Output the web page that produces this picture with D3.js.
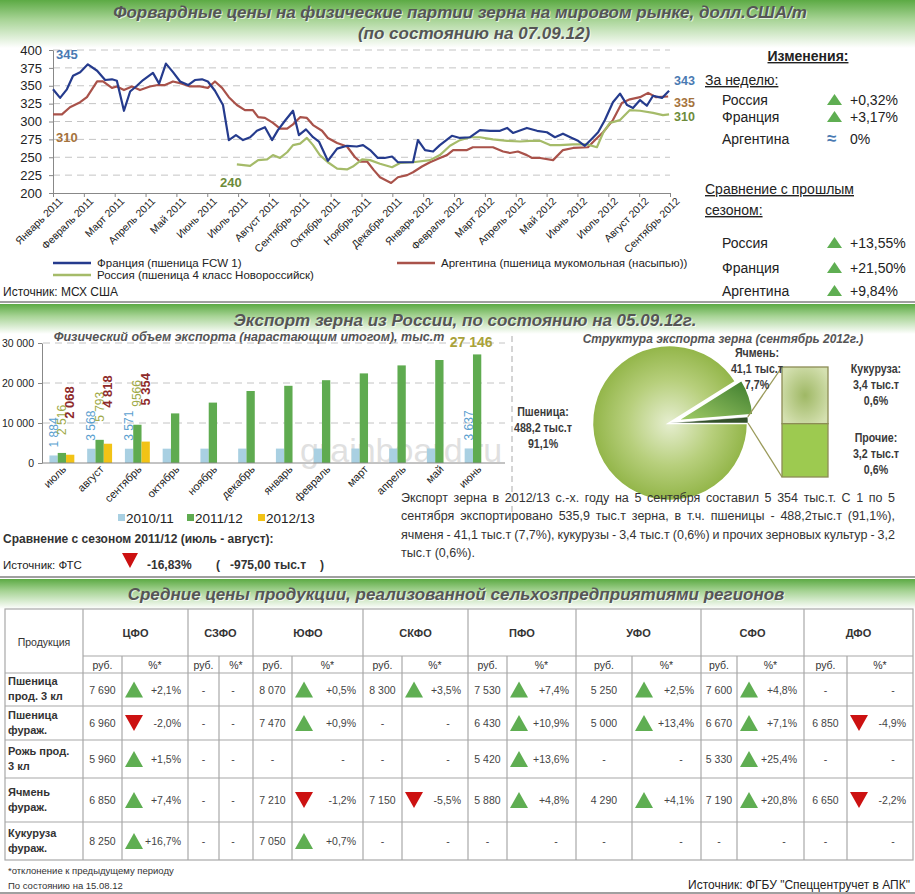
<!DOCTYPE html>
<html><head><meta charset="utf-8">
<script src="https://cdn.jsdelivr.net/npm/d3@7"></script>
<style>
body{margin:0;background:#fff;}
svg{display:block;font-family:"Liberation Sans",Arial,sans-serif;}
</style></head><body><svg id="c" width="915" height="894"></svg>
<script>
// ---------------- DATA ----------------
const topMonths = ["Январь 2011","Февраль 2011","Март 2011","Апрель 2011","Май 2011","Июнь 2011","Июль 2011","Август 2011","Сентябрь 2011","Октябрь 2011","Ноябрь 2011","Декабрь 2011","Январь 2012","Февраль 2012","Март 2012","Апрель 2012","Май 2012","Июнь 2012","Июль 2012","Август 2012","Сентябрь 2012"];
const priceTicks = [200,225,250,275,300,325,350,375,400];
// time in months since January 2011
const franceT = [0,0.23,0.45,0.65,0.88,1.13,1.43,1.69,1.91,2.07,2.30,2.50,2.72,2.92,3.24,3.44,3.66,3.89,4.12,4.38,4.60,4.83,5.02,5.25,5.51,5.70,5.93,6.16,6.39,6.61,6.87,7.10,7.29,7.52,7.78,7.97,8.20,8.43,8.62,8.91,9.21,9.53,9.85,10.05,10.28,10.53,10.75,10.99,11.18,11.67,11.83,12.06,12.32,12.54,12.93,13.19,13.52,13.84,14.17,14.49,14.72,14.91,15.36,15.69,16.01,16.27,16.53,16.82,17.02,17.24,17.47,17.67,17.89,18.15,18.38,18.61,18.80,19.03,19.25,19.45,19.74,19.97];
const franceV = [345,333,345,364,369,380,371,358,359,357,315,342,350,358,368,353,381,369,356,351,358,359,356,343,323,274,281,274,278,287,292,274,288,301,315,281,289,278,272,245,262,266,265,267,260,249,249,251,243,243,274,260,258,267,280,277,278,288,287,287,291,284,291,287,285,278,283,277,273,266,276,285,302,327,339,323,319,330,322,336,333,343];
const argT = [0,0.29,0.55,0.88,1.10,1.43,1.62,1.91,2.07,2.30,2.56,2.82,3.14,3.40,3.63,3.89,4.18,4.44,4.77,5.02,5.25,5.48,5.70,5.96,6.22,6.48,6.65,6.87,7.13,7.36,7.59,7.78,8.01,8.23,8.43,8.72,8.91,9.21,9.53,9.79,9.95,10.18,10.40,10.60,10.96,11.18,11.48,11.67,11.96,12.22,12.54,12.77,12.97,13.42,13.61,14.26,14.59,14.81,15.07,15.36,15.53,15.79,16.21,16.53,16.86,17.34,17.57,17.83,18.15,18.44,18.70,19.03,19.29,19.55,19.94];
const argV = [310,310,320,327,334,356,356,347,349,344,349,344,349,351,351,356,353,349,349,347,356,347,334,323,316,316,306,305,298,290,290,296,306,305,295,287,277,270,265,250,244,244,232,222,214,222,225,229,237,243,249,253,260,260,264,264,258,256,258,253,249,249,246,260,263,264,274,285,302,326,331,334,340,334,335];
const rusT = [5.96,6.39,6.65,6.94,7.13,7.36,7.59,7.78,8.01,8.23,8.43,8.65,8.91,9.21,9.53,9.72,10.02,10.28,10.60,10.99,11.25,11.67,12.22,12.54,12.87,13.19,13.52,13.84,14.26,14.72,15.14,15.46,15.79,16.11,16.43,16.86,17.31,17.63,17.83,18.05,18.38,18.70,19.03,19.45,19.77,19.97];
const rusV = [240,238,246,247,253,249,257,267,269,277,267,253,243,234,233,237,247,246,241,236,242,243,246,253,266,274,278,278,275,273,272,273,273,267,267,268,268,264,284,298,302,316,315,312,309,310];
const seriesNames = ["Франция (пшеница FCW 1)","Россия (пшеница 4 класс Новороссийск)","Аргентина (пшеница мукомольная (насыпью))"];
const weekNames = ["Россия","Франция","Аргентина"];
const weekChange = [0.32, 3.17, 0];
const seasonNames = ["Россия","Франция","Аргентина"];
const seasonChange = [13.55, 21.50, 9.84];

const exportMonths = ["июль","август","сентябрь","октябрь","ноябрь","декабрь","январь","февраль","март","апрель","май","июнь"];
const seasons = ["2010/11","2011/12","2012/13"];
const season1011 = [1884,3568,3571,3580,3590,3600,3600,3610,3615,3620,3630,3637];
const season1112 = [2516,5793,9566,12400,15100,18000,19300,20700,22400,24400,25750,27146];
const season1213 = [2068,4818,5354];
const exportTicks = [0,10000,20000,30000];

const pieNames = ["Пшеница","Ячмень","Кукуруза и прочие"];
const pieValues = [488.2, 41.1, 6.6];
const piePct = ["91,1%","7,7%","1,2%"];
const boxNames = ["Кукуруза","Прочие"];
const boxValues = [3.4, 3.2];
const boxPct = ["0,6%","0,6%"];

const regions = ["ЦФО","СЗФО","ЮФО","СКФО","ПФО","УФО","СФО","ДФО"];
const products = ["Пшеница|прод. 3 кл","Пшеница|фураж.","Рожь прод.|3 кл","Ячмень|фураж.","Кукуруза|фураж."];
const prices = [
 [7690,null,8070,8300,7530,5250,7600,null],
 [6960,null,7470,null,6430,5000,6670,6850],
 [5960,null,null,null,5420,null,5330,null],
 [6850,null,7210,7150,5880,4290,7190,6650],
 [8250,null,7050,null,null,null,null,null]];
const changes = [
 [2.1,null,0.5,3.5,7.4,2.5,4.8,null],
 [-2.0,null,0.9,null,10.9,13.4,7.1,-4.9],
 [1.5,null,null,null,13.6,null,25.4,null],
 [7.4,null,-1.2,-5.5,4.8,4.1,20.8,-2.2],
 [16.7,null,0.7,null,null,null,null,null]];

// ---------------- SETUP ----------------
const loc = d3.formatLocale({decimal:",",thousands:" ",grouping:[3],currency:["",""],minus:"-"});
const fInt = loc.format(",d");
const fPct1 = v => (v>0?"+":"") + loc.format(".1f")(v) + "%";
const fPct2 = v => (v>0?"+":"") + loc.format(".2f")(v) + "%";
const svg = d3.select("#c");
const defs = svg.append("defs");
const FONT = '"Liberation Sans",Arial,sans-serif';

const gb = defs.append("linearGradient").attr("id","gbar").attr("x1",0).attr("y1",0).attr("x2",0).attr("y2",1);
gb.append("stop").attr("offset","0%").attr("stop-color","#5caa44");
gb.append("stop").attr("offset","40%").attr("stop-color","#a6d394");
gb.append("stop").attr("offset","100%").attr("stop-color","#ffffff");

function bar(y,h){ svg.append("rect").attr("x",0).attr("y",y).attr("width",915).attr("height",h).attr("fill","url(#gbar)"); }
function sep(y){ svg.append("line").attr("x1",0).attr("x2",915).attr("y1",y).attr("y2",y).attr("stroke","#a0a0a0").attr("stroke-width",2); }
function title(t,x,y,size){
  svg.append("text").attr("x",x+1).attr("y",y+1).attr("text-anchor","middle").attr("font-size",size)
    .attr("font-weight","bold").attr("font-style","italic").attr("fill","#ffffff").attr("opacity",0.7).text(t);
  svg.append("text").attr("x",x).attr("y",y).attr("text-anchor","middle").attr("font-size",size)
    .attr("font-weight","bold").attr("font-style","italic").attr("fill","#555555").text(t);
}
function txt(t,x,y,o={}){
  const e = svg.append("text").attr("x",x).attr("y",y).attr("font-size",o.size||12)
    .attr("fill",o.fill||"#222").attr("text-anchor",o.anchor||"start").text(t);
  if(o.bold) e.attr("font-weight","bold");
  if(o.italic) e.attr("font-style","italic");
  if(o.family) e.attr("font-family",o.family);
  if(o.under) e.style("text-decoration","underline");
  if(o.stretch) e.attr("transform",`translate(${x},0) scale(${o.stretch},1) translate(${-x},0)`);
  return e;
}
function triUp(x,y,w,h,fill){ svg.append("path").attr("d",`M${x},${y+h}L${x+w/2},${y}L${x+w},${y+h}Z`).attr("fill",fill||"#5fae52"); }
function triDown(x,y,w,h){ svg.append("path").attr("d",`M${x},${y}L${x+w/2},${y+h}L${x+w},${y}Z`).attr("fill","#cc1111"); }

// ---------------- SECTION 1 ----------------
bar(0,48);
title("Форвардные цены на физические партии зерна на мировом рынке, долл.США/т",460,18,17);
title("(по состоянию на 07.09.12)",474,39,17);

const xT = d3.scaleLinear().domain([0,20]).range([53,670]);
const yT = d3.scaleLinear().domain([200,400]).range([193,50]);
const g1 = svg.append("g");
g1.selectAll("line.grid").data(priceTicks.filter(d=>d>200)).join("line")
  .attr("x1",xT(0)).attr("x2",xT(20)).attr("y1",d=>yT(d)).attr("y2",d=>yT(d))
  .attr("stroke","#c4c4c4").attr("stroke-dasharray","7,5");
const ay = g1.append("g").attr("transform",`translate(${xT(0)},0)`)
  .call(d3.axisLeft(yT).tickValues(priceTicks).tickSize(4).tickSizeOuter(0));
ay.selectAll("text").attr("font-size",13).attr("fill","#222").attr("font-family",FONT).attr("dx",-4);
ay.selectAll("line,path").attr("stroke","#888");
const ax = g1.append("g").attr("transform",`translate(0,${yT(200)})`)
  .call(d3.axisBottom(xT).tickValues(d3.range(21)).tickFormat(i=>topMonths[i]).tickSize(4).tickSizeOuter(0));
ax.selectAll("line,path").attr("stroke","#888");
ax.selectAll("text").attr("font-size",10.5).attr("fill","#222").attr("font-family",FONT)
  .attr("text-anchor","end").attr("transform","translate(3,2) rotate(-45)").attr("dy","0.35em").attr("y",6).attr("x",0);

const lineT = d3.line().x(d=>xT(d[0])).y(d=>yT(d[1]));
const lines = [[argT,argV,"#a9524a"],[rusT,rusV,"#a5bb69"],[franceT,franceV,"#253b8d"]];
lines.forEach(([t,v,c])=>{
  g1.append("path").datum(d3.zip(t,v)).attr("d",lineT).attr("fill","none").attr("stroke",c).attr("stroke-width",2.2).attr("stroke-linejoin","round");
});
txt(franceV[0],56,59,{size:13,bold:true,fill:"#4a7ab2"});
txt(argV[0],56,142,{size:13,bold:true,fill:"#a5733d"});
txt(rusV[0],220,187,{size:13,bold:true,fill:"#6d8b3a"});
txt(franceV[franceV.length-1],674,85,{size:12.5,bold:true,fill:"#4a7ab2"});
txt(argV[argV.length-1],674,107,{size:12.5,bold:true,fill:"#a5733d"});
txt(rusV[rusV.length-1],674,121,{size:12.5,bold:true,fill:"#6d8b3a"});

// legend
[[53,263,"#253b8d",seriesNames[0]],[53,275,"#a5bb69",seriesNames[1]],[397,263,"#a9524a",seriesNames[2]]].forEach(([x,y,c,n])=>{
  svg.append("line").attr("x1",x).attr("x2",x+38).attr("y1",y).attr("y2",y).attr("stroke",c).attr("stroke-width",2.5);
  txt(n,x+44,y+4,{size:11.5,fill:"#222"});
});
txt("Источник: МСХ США",3,296,{size:12,fill:"#222"});

// right panel
txt("Изменения:",808,61,{size:14,bold:true,anchor:"middle",under:true,fill:"#222"});
txt("За неделю:",705,85,{size:14,under:true,fill:"#222"});
const wy = [105,122,144];
weekNames.forEach((n,i)=>{
  txt(n,722,wy[i],{size:14,fill:"#222"});
  if(weekChange[i]>0){ triUp(827,wy[i]-11,15,11); txt(fPct2(weekChange[i]),850,wy[i],{size:14,fill:"#222"}); }
  else { txt("≈",827,wy[i],{size:17,bold:true,fill:"#4a7ab2"}); txt("0%",850,wy[i],{size:14,fill:"#222"}); }
});
txt("Сравнение с прошлым",705,194,{size:14,under:true,fill:"#222"});
txt("сезоном:",705,215,{size:14,under:true,fill:"#222"});
const sy = [248,273,296];
seasonNames.forEach((n,i)=>{
  txt(n,722,sy[i],{size:14,fill:"#222"});
  triUp(827,sy[i]-11,15,11);
  txt(fPct2(seasonChange[i]),850,sy[i],{size:14,fill:"#222"});
});
sep(302);

// ---------------- SECTION 2 ----------------
bar(304,30);
title("Экспорт зерна из России, по состоянию на 05.09.12г.",465,326,17);
txt("Физический объем экспорта (нарастающим итогом), тыс.т",249,341,{size:12.5,bold:true,italic:true,anchor:"middle",fill:"#555"});

// watermark (drawn beneath the marks)
svg.append("text").attr("x",300).attr("y",462).attr("font-size",34).attr("fill","#9a9a9a").attr("opacity",0.3).text("grainboard.ru");

const xB = d3.scaleBand().domain(exportMonths).range([43,496]).paddingInner(0.34).paddingOuter(0.17);
const xS = d3.scaleBand().domain(seasons).range([0,xB.bandwidth()]);
const yB = d3.scaleLinear().domain([0,30000]).range([463,343]);
const g2 = svg.append("g");
g2.selectAll("line.grid").data(exportTicks.filter(d=>d>0)).join("line")
  .attr("x1",43).attr("x2",505).attr("y1",d=>yB(d)).attr("y2",d=>yB(d))
  .attr("stroke","#c4c4c4").attr("stroke-dasharray","7,5");
const seasonColors = ["#a9d0e2","#5fab50","#f2c316"];
const allSeries = [season1011,season1112,season1213];
allSeries.forEach((s,si)=>{
  g2.selectAll(null).data(s).join("rect")
    .attr("x",(d,i)=>xB(exportMonths[i])+xS(seasons[si]))
    .attr("width",xS.bandwidth())
    .attr("y",d=>yB(d)).attr("height",d=>yB(0)-yB(d))
    .attr("fill",seasonColors[si]);
});
const by = g2.append("g").attr("transform","translate(42,0)")
  .call(d3.axisLeft(yB).tickValues(exportTicks).tickSize(4).tickSizeOuter(0).tickFormat(fInt));
by.selectAll("text").attr("font-size",10.5).attr("fill","#222").attr("font-family",FONT).attr("dx",-1);
by.selectAll("line,path").attr("stroke","#888");
g2.append("line").attr("x1",42).attr("x2",505).attr("y1",yB(0)).attr("y2",yB(0)).attr("stroke","#888");
exportMonths.forEach(m=>{
  const cx = xB(m)+xB.bandwidth()/2;
  g2.append("text").attr("transform",`translate(${cx+5},${470}) rotate(-45)`).attr("text-anchor","end")
    .attr("font-size",11).attr("fill","#222").text(m);
});
// value labels
const lblColor = ["#5b9fd0","#a0aa48","#8e2a2a"];
const lblOff = [8,18,36];
const lblIdx = [[0,1,2,11],[0,1,2],[0,1,2]];
allSeries.forEach((s,si)=>{
  lblIdx[si].forEach(i=>{
    const cx = xB(exportMonths[i])+xS(seasons[si])+xS.bandwidth()/2;
    const v = s[i];
    const t = (v===9566)?"9566":fInt(v);
    g2.append("text").attr("transform",`translate(${cx+4},${yB(v)-lblOff[si]}) rotate(-90)`)
      .attr("font-size",si===2?13:12).attr("font-weight",si===2?"bold":"normal").attr("fill",lblColor[si]).text(t);
  });
});
{
  const cx = xB(exportMonths[11])+xS(seasons[1])+xS.bandwidth()/2;
  g2.append("text").attr("x",cx-6).attr("y",347).attr("text-anchor","middle").attr("font-size",14).attr("font-weight","bold")
    .attr("fill","#a9a23a").text(fInt(season1112[11]));
}
// legend
seasons.forEach((s,i)=>{
  const lx = [118,187,258][i];
  svg.append("rect").attr("x",lx).attr("y",514).attr("width",7).attr("height",7).attr("fill",seasonColors[i]);
  txt(s,lx+8,523,{size:13.5,fill:"#222"});
});
txt("Сравнение с сезоном 2011/12 (июль - август):",3,543,{size:12,bold:true,fill:"#333"});
txt("Источник: ФТС",3,569,{size:11.5,fill:"#222"});
triDown(122,553,16,15);
txt("-16,83%",147,569,{size:12,bold:true,fill:"#333"});
txt("(",216,569,{size:12,bold:true,fill:"#333"});
txt("-975,00 тыс.т",230,569,{size:12,bold:true,fill:"#333"});
txt(")",320,569,{size:12,bold:true,fill:"#333"});

// separator dashed
svg.append("line").attr("x1",512).attr("x2",512).attr("y1",336).attr("y2",512).attr("stroke","#aaa").attr("stroke-dasharray","6,4");

// pie
txt("Структура экспорта зерна (сентябрь 2012г.)",723,343,{size:12,bold:true,italic:true,anchor:"middle",fill:"#555"});
const rg = defs.append("radialGradient").attr("id","gwheat").attr("cx","50%").attr("cy","50%").attr("r","50%");
rg.append("stop").attr("offset","0%").attr("stop-color","#e6eed0");
rg.append("stop").attr("offset","55%").attr("stop-color","#b7cf7c");
rg.append("stop").attr("offset","100%").attr("stop-color","#92b548");
const lg = defs.append("linearGradient").attr("id","gbarley").attr("x1",0).attr("y1",1).attr("x2",1).attr("y2",0);
lg.append("stop").attr("offset","0%").attr("stop-color","#a6d06a");
lg.append("stop").attr("offset","100%").attr("stop-color","#3a7a2c");
const cr = defs.append("radialGradient").attr("id","gcorn").attr("cx","50%").attr("cy","50%").attr("r","60%");
cr.append("stop").attr("offset","0%").attr("stop-color","#9fb865");
cr.append("stop").attr("offset","100%").attr("stop-color","#d4e0b0");
const pc = [670,423], R = 78;
const pie = d3.pie().sort(null).startAngle(Math.PI/2).endAngle(Math.PI/2+2*Math.PI);
const arcs = pie(pieValues);
const arc = d3.arc().innerRadius(0).outerRadius(R);
const pieFills = ["url(#gwheat)","url(#gbarley)","#33502a"];
const gp = svg.append("g").attr("transform",`translate(${pc[0]},${pc[1]})`);
arcs.forEach((a,i)=>{
  const mid = (a.startAngle+a.endAngle)/2;
  const off = i===1?6:0;
  gp.append("path").attr("d",arc(a)).attr("fill",pieFills[i]).attr("stroke","#fff").attr("stroke-width",i===2?0.5:2.5)
    .attr("transform",`translate(${off*Math.sin(mid)},${-off*Math.cos(mid)})`);
});
// box
const bx=782, btop=367, bh=110, bw=46;
const yBox = d3.scaleLinear().domain([0,d3.sum(boxValues)]).range([btop,btop+bh]);
const oth = arcs[2];
const p1 = [pc[0]+R*Math.sin(oth.startAngle), pc[1]-R*Math.cos(oth.startAngle)];
const p2 = [pc[0]+R*Math.sin(oth.endAngle), pc[1]-R*Math.cos(oth.endAngle)];
svg.append("line").attr("x1",p1[0]).attr("y1",p1[1]).attr("x2",bx).attr("y2",btop).attr("stroke","#9a9a5a").attr("stroke-width",1.3);
svg.append("line").attr("x1",p2[0]).attr("y1",p2[1]).attr("x2",bx).attr("y2",btop+bh).attr("stroke","#9a9a5a").attr("stroke-width",1.3);
let acc=0;
boxValues.forEach((v,i)=>{
  svg.append("rect").attr("x",bx).attr("y",yBox(acc)).attr("width",bw).attr("height",yBox(acc+v)-yBox(acc))
    .attr("fill",i===0?"url(#gcorn)":"#9dca50").attr("stroke","#8c8c55").attr("stroke-width",1.3);
  acc+=v;
});
const pl = (lines,x,y)=>lines.forEach((l,k)=>txt(l,x,y+k*16,{size:13,bold:true,anchor:"middle",fill:"#3a3a3a",stretch:0.82}));
pl([pieNames[0]+":",loc.format(".1f")(pieValues[0])+" тыс.т",piePct[0]],543,416);
pl([pieNames[1]+":",loc.format(".1f")(pieValues[1])+" тыс.т",piePct[1]],757,357);
pl([boxNames[0]+":",loc.format(".1f")(boxValues[0])+"  тыс.т",boxPct[0]],876,373);
pl([boxNames[1]+":",loc.format(".1f")(boxValues[1])+" тыс.т",boxPct[1]],876,442);

// paragraph
const para = [
 "Экспорт зерна в 2012/13 с.-х. году на 5 сентября составил 5 354 тыс.т. С 1 по 5",
 "сентября  экспортировано 535,9 тыс.т зерна, в т.ч. пшеницы - 488,2тыс.т (91,1%),",
 "ячменя - 41,1 тыс.т (7,7%), кукурузы - 3,4 тыс.т (0,6%) и прочих зерновых культур - 3,2",
 "тыс.т (0,6%)."];
const meas = svg.append("text").attr("font-size",12.5).attr("visibility","hidden");
function wlen(w){ meas.text(w); return meas.node().getComputedTextLength(); }
para.forEach((line,li)=>{
  const y = 502 + li*18.3;
  const words = line.split(/\s+/);
  const widths = words.map(wlen);
  const x0=401, x1=895;
  const gap = li<3 ? (x1-x0-d3.sum(widths))/(words.length-1) : wlen("a b")-wlen("ab");
  let x=x0;
  words.forEach((w,k)=>{ txt(w,x,y,{size:12.5,fill:"#333"}); x+=widths[k]+gap; });
});
meas.remove();
sep(577);

// ---------------- SECTION 3 ----------------
bar(579,30);
title("Средние цены продукции, реализованной сельхозпредприятиями регионов",456,600,17);
const colX = [5,83,122,188,219,253,292,363,402,468,507,576,632,701,737,804,847,913];
const rowY = [609,656,673,706,740,778,822,860];
const lc = "#a8a8a8";
const tl = (x1,y1,x2,y2)=>svg.append("line").attr("x1",x1).attr("y1",y1).attr("x2",x2).attr("y2",y2).attr("stroke",lc).attr("stroke-width",1.2);
svg.append("rect").attr("x",colX[0]).attr("y",rowY[0]).attr("width",colX[17]-colX[0]).attr("height",rowY[7]-rowY[0]).attr("fill","none").attr("stroke",lc).attr("stroke-width",1.2);
tl(colX[1],rowY[1],colX[17],rowY[1]);
for(let r=2;r<7;r++) tl(colX[0],rowY[r],colX[17],rowY[r]);
for(let c=1;c<17;c++){ const regionEdge = (c%2===1); tl(colX[c], regionEdge?rowY[0]:rowY[1], colX[c], rowY[7]); }
txt("Продукция",44,646,{size:10.5,anchor:"middle",fill:"#333"});
regions.forEach((r,i)=>{
  const a=colX[1+2*i], b=colX[3+2*i];
  txt(r,(a+b)/2,637,{size:11,bold:true,anchor:"middle",fill:"#333"});
  txt("руб.",(a+colX[2+2*i])/2,669,{size:10.5,anchor:"middle",fill:"#333"});
  txt("%*",(colX[2+2*i]+b)/2,669,{size:10.5,anchor:"middle",fill:"#333"});
});
products.forEach((p,r)=>{
  const cy = (rowY[r+2]+rowY[r+3])/2;
  const [l1,l2] = p.split("|");
  txt(l1,8,cy-4.5,{size:11,bold:true,fill:"#333"});
  txt(l2,8,cy+10.5,{size:11,bold:true,fill:"#333"});
  regions.forEach((reg,i)=>{
    const a=colX[1+2*i], m=colX[2+2*i], b=colX[3+2*i];
    const pv = prices[r][i], cv = changes[r][i];
    txt(pv==null?"-":fInt(pv),(a+m)/2,cy+4,{size:10.5,anchor:"middle",fill:"#444"});
    if(cv==null){ txt("-",b-20,cy+4,{size:10.5,anchor:"middle",fill:"#444"}); }
    else {
      if(cv>0) triUp(m+3,cy-8,18,16); else triDown(m+3,cy-8,18,16);
      txt(fPct1(cv),b-7,cy+4,{size:10.5,anchor:"end",fill:"#444"});
    }
  });
});
txt("*отклонение к предыдущему периоду",8,874,{size:9.5,fill:"#333"});
txt("По состоянию на 15.08.12",8,889,{size:9.5,fill:"#333"});
txt("Источник: ФГБУ \"Спеццентручет в АПК\"",910,889,{size:12,anchor:"end",fill:"#222"});
sep(893);
</script></body></html>
